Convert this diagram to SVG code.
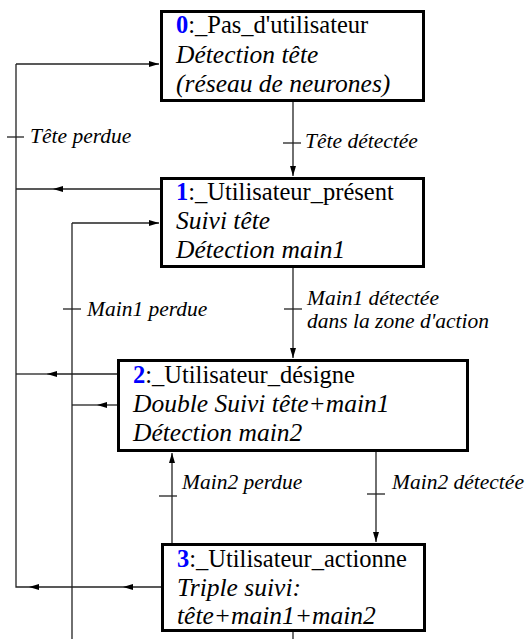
<svg xmlns="http://www.w3.org/2000/svg" width="528" height="639" viewBox="0 0 528 639">
<defs>
<marker id="ah" viewBox="0 0 10 6" refX="10" refY="3" markerWidth="10" markerHeight="6" markerUnits="userSpaceOnUse" orient="auto"><path d="M0,0 L10,3 L0,6 z" fill="#000"/></marker>
</defs>
<style>
.box{fill:#fff;stroke:#000;stroke-width:3}
.t{font-size:24.5px;fill:#000}
.n{font-weight:bold;fill:#0000ff}
.i{font-style:italic;font-size:25.5px}
.lb{font-size:21.5px;font-style:italic;fill:#000}
.c{fill:none;stroke:#222;stroke-width:1.3}
.a{marker-end:url(#ah)}
</style>
<rect width="528" height="639" fill="#fff"/>
<g id="connectors" font-family="Liberation Serif, serif">
<path class="c a" d="M160,189 H53"/>
<path class="c" d="M53,189 H16"/>
<path class="c a" d="M117,374 H47"/>
<path class="c" d="M47,374 H16"/>
<path class="c a" d="M161,587 H123"/>
<path class="c a" d="M123,587 H29"/>
<path class="c" d="M29,587 H16 V64"/>
<path class="c a" d="M16,64 H159"/>
<path class="c" d="M7,137 H24"/>
<text class="lb" x="30" y="143">Tête perdue</text>
<path class="c a" d="M293,102 V176"/>
<path class="c" d="M283,143 H301"/>
<text class="lb" x="305" y="148">Tête détectée</text>
<path class="c a" d="M117,405 H97"/>
<path class="c" d="M97,405 H72"/>
<path class="c" d="M72,639 V223"/>
<path class="c a" d="M72,223 H159"/>
<path class="c" d="M63,309 H81"/>
<text class="lb" x="87" y="316">Main1 perdue</text>
<path class="c a" d="M293,268 V358"/>
<path class="c" d="M284,309 H302"/>
<text class="lb" x="307" y="305">Main1 détectée</text>
<text class="lb" x="307" y="328">dans la zone d'action</text>
<path class="c a" d="M376,452 V542"/>
<path class="c" d="M367,494 H385"/>
<text class="lb" x="392" y="489">Main2 détectée</text>
<path class="c a" d="M172,543 V453"/>
<path class="c" d="M159,496 H177"/>
<text class="lb" x="182" y="489">Main2 perdue</text>
<path class="c" d="M293,632 V639"/>
</g>
<g id="state0" font-family="Liberation Serif, serif">
<rect class="box" x="161.5" y="11.5" width="262" height="89"/>
<text class="t" x="176" y="33"><tspan class="n">0</tspan>:_Pas_d'utilisateur</text>
<text class="t i" x="176" y="63">Détection tête</text>
<text class="t i" x="176" y="92">(réseau de neurones)</text>
</g>
<g id="state1" font-family="Liberation Serif, serif">
<rect class="box" x="161.5" y="178.5" width="262" height="88"/>
<text class="t" x="176" y="200"><tspan class="n">1</tspan>:_Utilisateur_présent</text>
<text class="t i" x="176" y="229">Suivi tête</text>
<text class="t i" x="176" y="258">Détection main1</text>
</g>
<g id="state2" font-family="Liberation Serif, serif">
<rect class="box" x="118.5" y="360.5" width="349" height="90"/>
<text class="t" x="133" y="383"><tspan class="n">2</tspan>:_Utilisateur_désigne</text>
<text class="t i" x="133" y="412">Double Suivi tête+main1</text>
<text class="t i" x="133" y="441">Détection main2</text>
</g>
<g id="state3" font-family="Liberation Serif, serif">
<rect class="box" x="162.5" y="544.5" width="262" height="86"/>
<text class="t" x="177" y="567"><tspan class="n">3</tspan>:_Utilisateur_actionne</text>
<text class="t i" x="177" y="596">Triple suivi:</text>
<text class="t i" x="177" y="624">tête+main1+main2</text>
</g>
</svg>
